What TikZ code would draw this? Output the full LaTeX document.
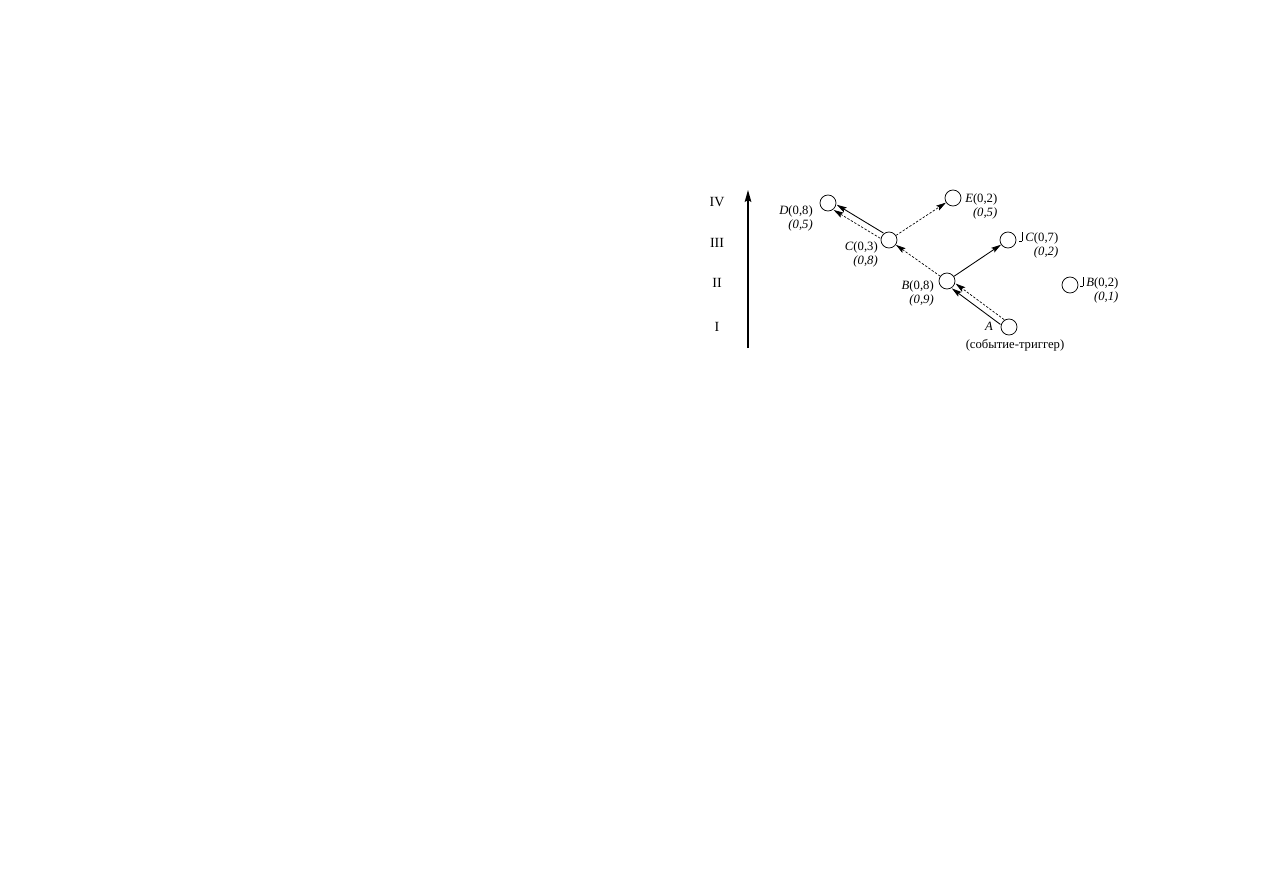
\documentclass[tikz,border=0pt]{standalone}
\usepackage{fontspec}
\setmainfont{Liberation Serif}
\usetikzlibrary{arrows.meta}
\newcommand\negmark{\rule{0.25em}{0.5pt}\rule{0.5pt}{0.75em}\kern0.18em}
\tikzset{
  ev/.style={circle, draw, line width=0.55pt, minimum size=12pt, inner sep=0pt},
  lab/.style={font=\fontsize{9.5}{10.5}\selectfont, inner sep=0pt, align=right},
  lvl/.style={font=\fontsize{10.5}{12}\selectfont, inner sep=0pt},
  tip/.style={-{Stealth[length=7.5pt,width=4.2pt,inset=1.4pt]}},
  sol/.style={tip, line width=0.65pt},
  dsh/.style={tip, line width=0.5pt, dash pattern=on 1.8pt off 1.2pt},
}
\begin{document}
\begin{tikzpicture}[x=0.75pt,y=-0.75pt]
\useasboundingbox (0,0) rectangle (1263,893);
% levels
\node[lvl] (l4) at (717,202) {IV};
\node[lvl] (l3) at (717,243) {III};
\node[lvl] (l2) at (717,283) {II};
\node[lvl] (l1) at (717,327) {I};
\coordinate (axb) at (748,348);
\coordinate (axt) at (748,190);
\draw[line width=1.1pt, -{Stealth[length=9pt,width=5pt,inset=1.5pt]}] (axb) -- (axt);
% events
\node[ev] (A) at (1009,327) {};
\node[ev] (B) at (947,281) {};
\node[ev] (C) at (889,240) {};
\node[ev] (D) at (828,203) {};
\node[ev] (E) at (953,198) {};
\node[ev] (nC) at (1008,240) {};
\node[ev] (nB) at (1070,285) {};
% labels
\node[lab, anchor=east] (Dl) at (813,218) {\textit{D}(0,8)\\\textit{(0,5)}};
\node[lab, anchor=east] (Cl) at (878,254) {\textit{C}(0,3)\\\textit{(0,8)}};
\node[lab, anchor=east] (Bl) at (934,293) {\textit{B}(0,8)\\\textit{(0,9)}};
\node[lab, anchor=west] (El) at (965,206) {\textit{E}(0,2)\\\textit{(0,5)}};
\node[lab, anchor=west] (nCl) at (1019,245) {\negmark\textit{C}(0,7)\\\textit{(0,2)}};
\node[lab, anchor=west] (nBl) at (1080,290) {\negmark\textit{B}(0,2)\\\textit{(0,1)}};
\node[lab] (Al) at (989,326) {\textit{A}};
\node[lab] (At) at (1015,345) {(событие-триггер)};
% connectors
\draw[sol, transform canvas={shift={(-1.9,2.4)}}] (A) -- (B);
\draw[dsh, transform canvas={shift={(1.9,-2.4)}}] (A) -- (B);
\draw[dsh] (B) -- (C);
\draw[sol] (B) -- (nC);
\draw[sol, transform canvas={shift={(1.6,-2.6)}}] (C) -- (D);
\draw[dsh, transform canvas={shift={(-1.6,2.6)}}] (C) -- (D);
\draw[dsh] (C) -- (E);
\end{tikzpicture}
\end{document}
